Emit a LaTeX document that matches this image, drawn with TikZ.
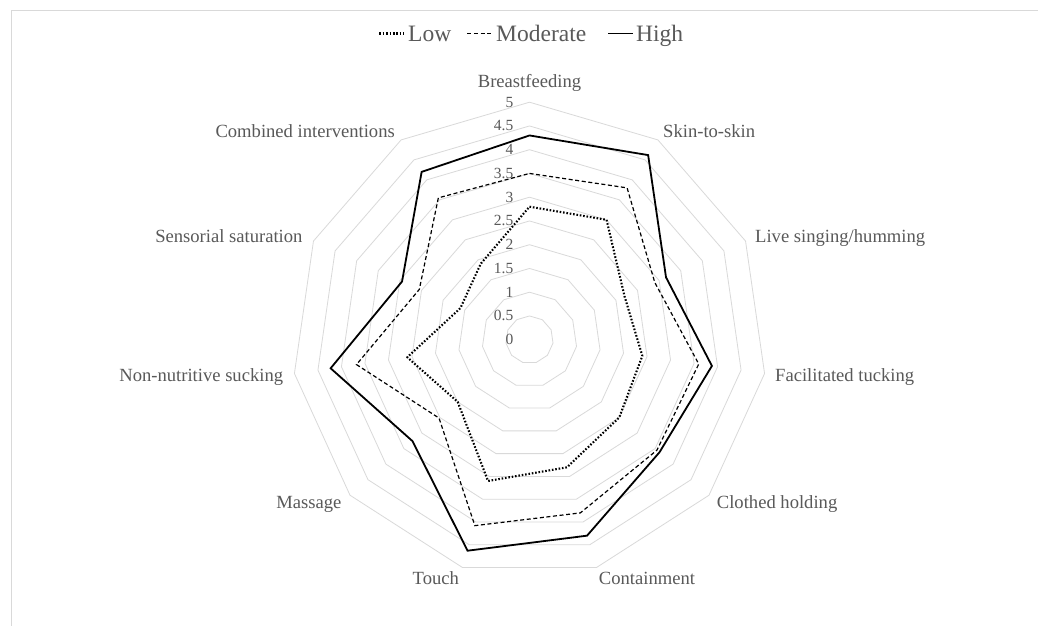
\documentclass[tikz,border=0pt]{standalone}
\usepackage{fontspec}
\setmainfont{Liberation Serif}
\definecolor{gridc}{HTML}{D9D9D9}
\definecolor{txt}{HTML}{595959}
\begin{document}
\begin{tikzpicture}[x=1pt,y=1pt,
  lbl/.style={text=txt,font=\fontsize{18.6}{20}\selectfont,inner sep=0pt},
  legtext/.style={text=txt,font=\fontsize{23.5}{26}\selectfont,inner sep=0pt,anchor=base west},
  tick/.style={text=txt,font=\fontsize{15.5}{17}\selectfont,inner sep=0pt,anchor=east},
  ring/.style={draw=gridc,line width=0.8pt},
  lowline/.style={line width=2.1pt,dash pattern=on 1.6pt off 1.8pt,line join=round},
  modline/.style={line width=1.2pt,dash pattern=on 4pt off 2.6pt},
  highline/.style={line width=1.8pt,line join=miter}]
\useasboundingbox (0,0) rectangle (1038,-626);
\fill[white] (0,0) rectangle (1038,-626);
\draw[gridc,line width=0.8pt] (11,-626) -- (11,-10) -- (1038,-10);
\begin{scope}[shift={(529.5,-339.7)}]
  \foreach \k in {1,...,10} {
    \draw[ring] ({90}:{\k*23.75}) \foreach \i in {1,...,10} { -- ({90-\i*360/11}:{\k*23.75}) } -- cycle;
  }
  \foreach \v [count=\k from 0] in {0,0.5,1,1.5,2,2.5,3,3.5,4,4.5,5}
    \node[tick] (t\k) at (-16,{\k*23.75}) {\v};
  \foreach \v [count=\i from 0] in {2.8,3.0,2.2,2.4,2.5,2.8,3.1,2.0,2.6,1.6,1.9}
    \coordinate (L\i) at ({90-\i*360/11}:{\v*47.5});
  \foreach \v [count=\i from 0] in {3.5,3.8,2.9,3.6,3.55,3.8,4.08,2.52,3.68,2.55,3.55}
    \coordinate (M\i) at ({90-\i*360/11}:{\v*47.5});
  \foreach \v [count=\i from 0] in {4.3,4.62,3.16,3.88,3.62,4.3,4.63,3.26,4.23,2.95,4.2}
    \coordinate (H\i) at ({90-\i*360/11}:{\v*47.5});
  \draw[lowline] (L0) \foreach \i in {1,...,10} { -- (L\i) } -- cycle;
  \draw[modline] (M0) \foreach \i in {1,...,10} { -- (M\i) } -- cycle;
  \draw[highline] (H0) \foreach \i in {1,...,10} { -- (H\i) } -- cycle;
\end{scope}
% category labels
\node[lbl,anchor=base] (c0) at (529.5,-87.7) {Breastfeeding};
\node[lbl,anchor=base west] (c1) at (663,-137) {Skin-to-skin};
\node[lbl,anchor=base west] (c2) at (755,-242.7) {Live singing/humming};
\node[lbl,anchor=base west] (c3) at (775,-381.7) {Facilitated tucking};
\node[lbl,anchor=base west] (c4) at (716.7,-508) {Clothed holding};
\node[lbl,anchor=base] (c5) at (647,-584) {Containment};
\node[lbl,anchor=base] (c6) at (435.8,-584) {Touch};
\node[lbl,anchor=base east] (c7) at (341.7,-508.3) {Massage};
\node[lbl,anchor=base east] (c8) at (283.3,-381) {Non-nutritive sucking};
\node[lbl,anchor=base east] (c9) at (302.7,-242.7) {Sensorial saturation};
\node[lbl,anchor=base east] (c10) at (395,-137.7) {Combined interventions};
% legend
\coordinate (lg1a) at (379.3,-33.5); \coordinate (lg1b) at (403.3,-33.5);
\coordinate (lg2a) at (467.3,-33.5); \coordinate (lg2b) at (493.3,-33.5);
\coordinate (lg3a) at (608.3,-33.5); \coordinate (lg3b) at (633.3,-33.5);
\draw[lowline] (lg1a) -- (lg1b);
\draw[modline] (lg2a) -- (lg2b);
\draw[highline] (lg3a) -- (lg3b);
\node[legtext] (lgl) at (408,-41.7) {Low};
\node[legtext] (lgm) at (496,-41.7) {Moderate};
\node[legtext] (lgh) at (636,-41.7) {High};
\end{tikzpicture}
\end{document}
